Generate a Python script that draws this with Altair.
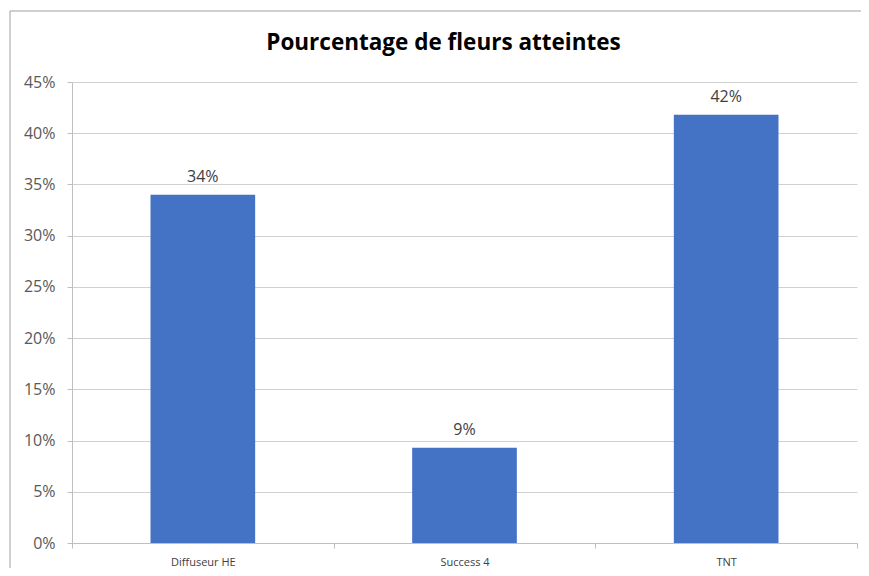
import altair as alt
import pandas as pd

categories = ["Diffuseur HE", "Success 4", "TNT"]
values = [0.340, 0.093, 0.418]
y_ticks = [0, 0.05, 0.10, 0.15, 0.20, 0.25, 0.30, 0.35, 0.40, 0.45]
title_text = "Pourcentage de fleurs atteintes"

df = pd.DataFrame({"cat": categories, "val": values})

FONT = "Open Sans"
W, H = 785, 461

x_enc = alt.X(
    "cat:N",
    sort=categories,
    scale=alt.Scale(paddingInner=0, paddingOuter=0),
    axis=alt.Axis(
        title=None,
        labelAngle=0,
        labelFont=FONT,
        labelFontSize=11,
        labelColor="#404040",
        labelPadding=8,
        tickBand="extent",
        tickSize=5,
        tickColor="#bfbfbf",
        domainColor="#bfbfbf",
        grid=False,
    ),
)
y_enc = alt.Y(
    "val:Q",
    scale=alt.Scale(domain=[0, 0.45], nice=False),
    axis=alt.Axis(
        title=None,
        values=y_ticks,
        format=".0%",
        labelFont=FONT,
        labelFontSize=16,
        labelColor="#595959",
        labelPadding=12,
        tickSize=5,
        tickColor="#bfbfbf",
        domainColor="#bfbfbf",
        gridColor="#d0d0d0",
    ),
)

bars = alt.Chart(df).mark_bar(color="#4472C4", width=alt.RelativeBandSize(0.4)).encode(x=x_enc, y=y_enc)

labels = alt.Chart(df).mark_text(
    font=FONT, fontSize=16, color="#404040", baseline="alphabetic", dy=-13
).encode(x=alt.X("cat:N", sort=categories), y="val:Q", text=alt.Text("val:Q", format=".0%"))

one = alt.Data(values=[{"a": 1}])
border_top = alt.Chart(one).mark_rule(stroke="#a0a0a0", strokeWidth=1).encode(
    x=alt.value(-62), x2=alt.value(900), y=alt.value(-71)
)
border_left = alt.Chart(one).mark_rule(stroke="#a0a0a0", strokeWidth=1).encode(
    x=alt.value(-62), y=alt.value(-71), y2=alt.value(600)
)

chart = alt.layer(border_top, border_left, bars, labels).properties(
    width=W,
    height=H,
    title=alt.TitleParams(
        title_text, font=FONT, fontSize=22.5, fontWeight="bold", color="#000000",
        anchor="middle", dx=-21, offset=-62, baseline="alphabetic",
    ),
    autosize=alt.AutoSizeParams(type="none"),
    padding={"left": 64, "top": 74, "right": 4, "bottom": 25},
).configure_view(stroke=None)

chart.save("out.html", embed_options={"renderer": "svg", "actions": False})
